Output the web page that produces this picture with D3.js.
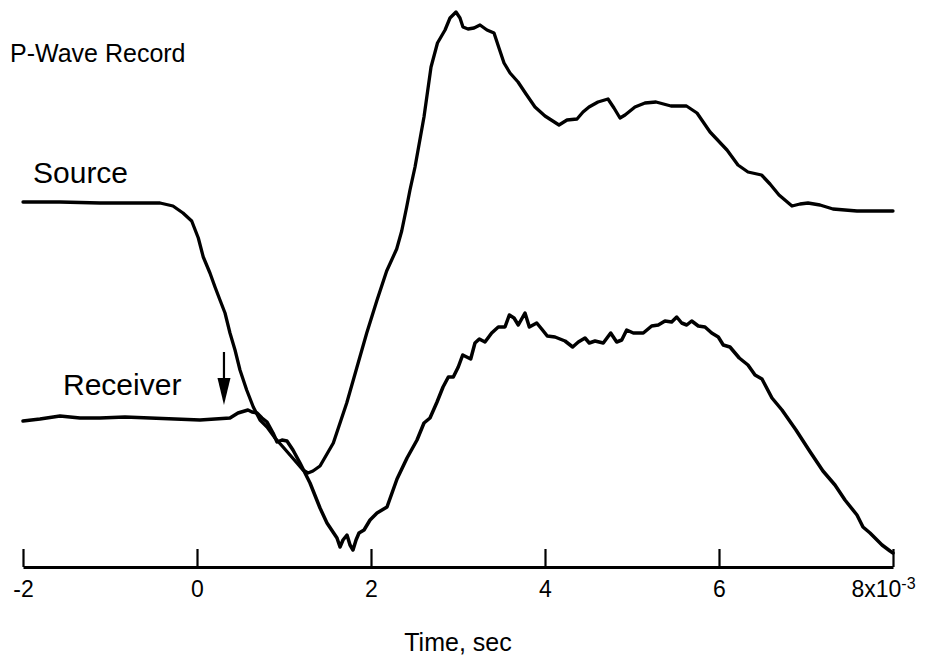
<!DOCTYPE html>
<html>
<head>
<meta charset="utf-8">
<script src="https://cdn.jsdelivr.net/npm/d3@7"></script>
<style>
  html, body { margin: 0; padding: 0; background: #fff; }
  svg { display: block; font-family: "Liberation Sans", Arial, Helvetica, sans-serif; }
</style>
</head>
<body>
<svg id="chart" width="932" height="660"></svg>
<script>
// ---- Data (time in ms, amplitude in arbitrary units) ----
const sourceTime = [-2.000,-1.575,-1.115,-0.655,-0.425,-0.276,-0.161,-0.061,0.015,0.072,0.149,0.207,0.264,0.322,0.379,0.437,0.494,0.571,0.647,0.724,0.805,0.897,0.989,1.069,1.149,1.218,1.276,1.333,1.414,1.567,1.721,1.836,1.951,2.066,2.180,2.295,2.353,2.410,2.448,2.506,2.609,2.690,2.764,2.851,2.908,2.977,3.023,3.057,3.115,3.184,3.253,3.333,3.414,3.471,3.529,3.598,3.690,3.782,3.885,4.000,4.161,4.253,4.368,4.437,4.506,4.609,4.724,4.793,4.862,4.920,5.034,5.149,5.276,5.448,5.626,5.747,5.897,6.092,6.218,6.333,6.489,6.586,6.690,6.839,6.931,7.023,7.161,7.310,7.586,7.747,8.000];
const sourceAmp = [36.5,36.5,36.4,36.4,36.4,36.1,35.4,34.6,32.9,31.0,29.4,28.0,26.7,25.4,23.4,21.7,19.7,17.7,16.0,14.7,14.0,12.9,12.0,11.2,10.4,9.7,9.4,9.6,10.1,12.4,16.4,19.9,23.4,26.6,29.6,31.8,33.6,36.0,37.7,40.0,45.0,50.0,52.4,53.7,54.9,55.5,54.9,54.0,53.8,53.9,54.2,53.7,53.4,51.9,50.4,49.4,48.5,47.3,46.0,45.1,44.2,44.7,44.8,45.5,46.0,46.5,46.8,45.9,44.9,45.2,46.0,46.4,46.5,46.1,46.1,45.4,43.5,41.7,40.2,39.5,39.2,38.3,37.2,36.1,36.3,36.4,36.2,35.8,35.6,35.6,35.6];

const receiverTime = [-2.000,-1.805,-1.575,-1.345,-1.115,-0.828,-0.540,-0.253,0.034,0.207,0.379,0.471,0.586,0.632,0.690,0.747,0.805,0.874,0.920,0.977,1.034,1.103,1.184,1.299,1.414,1.494,1.563,1.609,1.644,1.678,1.724,1.759,1.793,1.828,1.862,1.920,1.989,2.069,2.184,2.299,2.414,2.529,2.609,2.678,2.759,2.828,2.889,2.946,3.003,3.054,3.100,3.146,3.195,3.245,3.310,3.387,3.463,3.540,3.590,3.644,3.693,3.770,3.820,3.905,3.962,4.026,4.115,4.230,4.318,4.383,4.460,4.509,4.575,4.670,4.755,4.824,4.882,4.939,5.015,5.130,5.226,5.302,5.379,5.456,5.514,5.571,5.629,5.686,5.762,5.839,5.916,5.992,6.049,6.126,6.233,6.333,6.414,6.494,6.609,6.724,6.885,7.041,7.195,7.333,7.448,7.586,7.655,7.736,7.874,7.966,8.000];
const receiverAmp = [14.6,14.8,15.1,14.9,14.9,15.0,14.9,14.8,14.7,14.8,14.9,15.4,15.7,15.5,15.4,14.9,14.5,13.4,12.5,12.7,12.6,11.7,10.4,8.4,5.9,4.4,3.5,2.9,2.0,2.7,3.2,2.2,1.7,2.7,3.4,3.7,4.7,5.4,6.0,8.8,10.9,12.7,14.4,14.9,16.5,18.0,19.0,19.0,20.0,21.2,21.0,20.8,22.4,22.8,22.5,23.4,24.0,24.0,25.2,24.9,24.2,25.4,24.0,24.4,23.8,23.1,23.0,22.6,22.0,22.5,22.9,22.4,22.6,22.4,23.4,22.5,22.7,23.7,23.4,23.4,24.1,24.2,24.6,24.5,25.0,24.4,24.2,24.6,24.1,24.0,23.4,23.0,22.2,22.0,20.9,20.2,19.2,18.8,16.9,15.7,13.7,11.6,9.6,8.2,6.7,5.2,4.0,3.4,2.2,1.6,1.4];

const tickValues = [-2, 0, 2, 4, 6, 8];
const tickLabels = ["-2", "0", "2", "4", "6", "8x10"];
const lastTickExponent = "-3";
const arrowTime = 0.31;
const arrowFrom = 21.5, arrowTo = 16.2;

// ---- Scales ----
const svg = d3.select("#chart");
const x = d3.scaleLinear().domain([-2, 8]).range([23, 893]);
const y = d3.scaleLinear().domain([0, 56]).range([567, 7]);

// ---- Axis ----
const axis = d3.axisBottom(x)
  .tickValues(tickValues)
  .tickSizeInner(-18)
  .tickSizeOuter(0)
  .tickPadding(14)
  .tickFormat((d, i) => tickLabels[i]);

const gAxis = svg.append("g").attr("transform", `translate(0,${y(0)})`).call(axis);
gAxis.select(".domain").attr("stroke", "#000").attr("stroke-width", 2.8);
gAxis.selectAll(".tick line").attr("stroke", "#000").attr("stroke-width", 2.2);
gAxis.selectAll(".tick text")
  .attr("fill", "#000")
  .style("font-size", "23px")
  .style("font-family", "'Liberation Sans', Arial, Helvetica, sans-serif");
// superscript for the last label
gAxis.selectAll(".tick text").filter((d) => d === 8)
  .attr("text-anchor", "middle")
  .attr("dx", "-10")
  .append("tspan")
  .attr("dy", "-0.55em")
  .style("font-size", "16px")
  .text(lastTickExponent);

// ---- Lines ----
const line = d3.line().x(d => x(d[0])).y(d => y(d[1]));
const sourceData = sourceTime.map((t, i) => [t, sourceAmp[i]]);
const receiverData = receiverTime.map((t, i) => [t, receiverAmp[i]]);

svg.append("path").datum(sourceData)
  .attr("d", line).attr("fill", "none").attr("stroke", "#000")
  .attr("stroke-width", 3.3).attr("stroke-linejoin", "round").attr("stroke-linecap", "round");
svg.append("path").datum(receiverData)
  .attr("d", line).attr("fill", "none").attr("stroke", "#000")
  .attr("stroke-width", 3.5).attr("stroke-linejoin", "round").attr("stroke-linecap", "round");

// ---- Arrow ----
const ax = x(arrowTime);
svg.append("line")
  .attr("x1", ax).attr("x2", ax)
  .attr("y1", y(arrowFrom)).attr("y2", y(arrowTo) - 20)
  .attr("stroke", "#000").attr("stroke-width", 2.2);
svg.append("path")
  .attr("d", `M${ax - 6.5},${y(arrowTo) - 27} L${ax + 6.5},${y(arrowTo) - 27} L${ax},${y(arrowTo)} Z`)
  .attr("fill", "#000");

// ---- Texts ----
svg.append("text").attr("x", 10).attr("y", 62)
  .style("font-size", "25px").attr("fill", "#000").text("P-Wave Record");
svg.append("text").attr("x", 33).attr("y", 183)
  .style("font-size", "30px").attr("fill", "#000").text("Source");
svg.append("text").attr("x", 63).attr("y", 395)
  .style("font-size", "30px").attr("fill", "#000").text("Receiver");
svg.append("text").attr("x", 458).attr("y", 651).attr("text-anchor", "middle")
  .style("font-size", "25px").attr("fill", "#000").text("Time, sec");
</script>
</body>
</html>
